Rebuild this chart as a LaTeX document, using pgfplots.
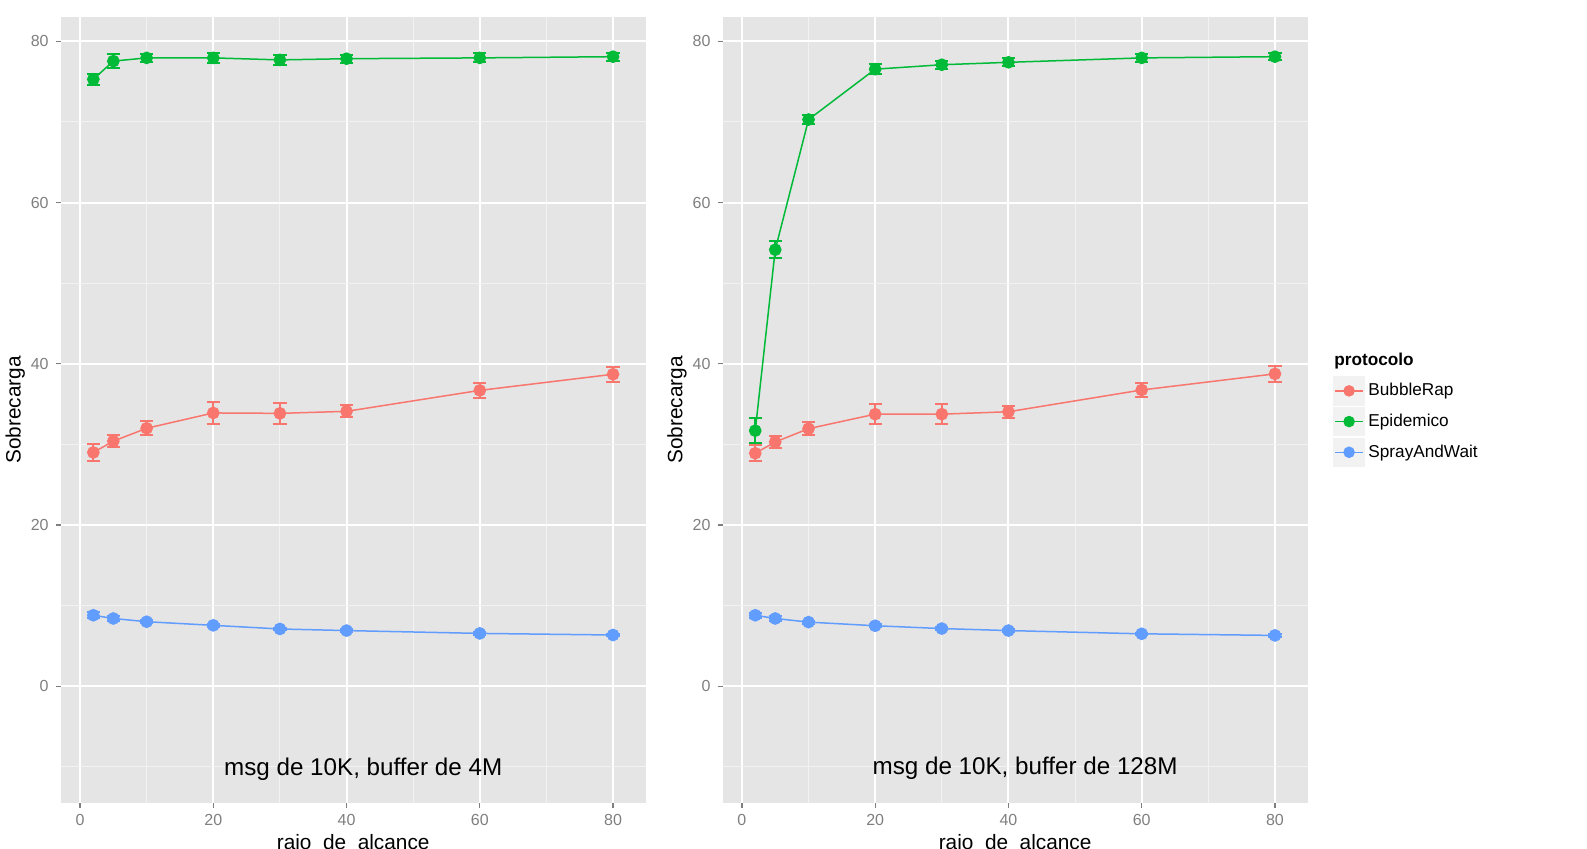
\documentclass[border=0pt]{standalone}
\usepackage{fontspec}
\setmainfont{Liberation Sans}
\usepackage{pgfplots}
\pgfplotsset{compat=1.18}

\definecolor{ggbg}{HTML}{E5E5E5}
\definecolor{ggminor}{HTML}{F2F2F2}
\definecolor{ggtext}{HTML}{7F7F7F}
\definecolor{cbub}{HTML}{F8766D}
\definecolor{cepi}{HTML}{00BA38}
\definecolor{cspr}{HTML}{619CFF}

\tikzset{note/.style={font=\fontsize{12.1}{14}\selectfont, anchor=base}}

\pgfplotsset{
  ggpanel/.style={
    scale only axis, width=292.5pt, height=392.7pt,
    xmin=-2.9, xmax=84.9, ymin=-14.44, ymax=83.0,
    axis background/.style={fill=ggbg},
    axis line style={draw=none},
    xtick={0,20,40,60,80}, ytick={0,20,40,60,80},
    minor xtick={10,30,50,70}, minor ytick={-10,10,30,50,70},
    grid=both,
    major grid style={white, line width=1pt},
    minor grid style={ggminor, line width=0.5pt},
    xtick pos=lower, ytick pos=left,
    tick align=outside, major tick length=2.5pt, minor tick length=0pt,
    tick style={ggtext, line width=0.6pt},
    ticklabel style={font=\fontsize{8}{9}\selectfont, text=ggtext},
    /pgf/number format/assume math mode=true,
    ylabel={Sobrecarga}, xlabel={raio\_de\_alcance},
    label style={font=\fontsize{10.4}{12}\selectfont},
    ylabel style={at={(axis description cs:-0.0778,0.5)}, anchor=center},
    xlabel style={at={(axis description cs:0.5,-0.0596)}, anchor=base},
  },
  ser/.style={color=#1, mark=*, line width=0.75pt, mark size=2.8pt,
    mark options={solid},
    error bars/y dir=both, error bars/y explicit,
    error bars/error bar style={line width=1pt},
    error bars/error mark options={rotate=90, mark size=3.3pt, line width=1pt}},
}

\begin{document}
\begin{tikzpicture}
\path[use as bounding box] (0,0) rectangle (793.5pt,424.5pt);
\clip (0,0) rectangle (793.5pt,424.5pt);

% left panel: buffer de 4M
\begin{axis}[ggpanel, at={(30.35pt,23.2pt)}, anchor=south west]
\addplot[ser=cbub] coordinates {
  (2,29.0) +- (0,1.0) (5,30.4) +- (0,0.75) (10,32.0) +- (0,0.85) (20,33.9) +- (0,1.35)
  (30,33.85) +- (0,1.3) (40,34.1) +- (0,0.75) (60,36.7) +- (0,0.95) (80,38.7) +- (0,0.9)
};
\addplot[ser=cepi] coordinates {
  (2,75.3) +- (0,0.7) (5,77.55) +- (0,0.85) (10,77.95) +- (0,0.5) (20,77.95) +- (0,0.6)
  (30,77.7) +- (0,0.6) (40,77.85) +- (0,0.5) (60,77.95) +- (0,0.55) (80,78.1) +- (0,0.5)
};
\addplot[ser=cspr] coordinates {
  (2,8.8) +- (0,0.35) (5,8.4) +- (0,0.3) (10,8.0) +- (0,0.2) (20,7.55) +- (0,0.2)
  (30,7.1) +- (0,0.15) (40,6.9) +- (0,0.15) (60,6.55) +- (0,0.15) (80,6.35) +- (0,0.15)
};
\node[note] at (axis cs:42.5,-11.1) {msg de 10K, buffer de 4M};
\end{axis}

% right panel: buffer de 128M
\begin{axis}[ggpanel, at={(361.3pt,23.2pt)}, anchor=south west,
  legend style={draw=none, fill=none, inner sep=0pt, at={(1.0433,0.5435)},
    anchor=north west, row sep=0.6pt, font=\fontsize{8.6}{10}\selectfont,
    nodes={inner sep=0.3pt}},
  legend cell align=left,
  legend image code/.code={
    \fill[ggminor] (-0.5pt,-7pt) rectangle (14.5pt,7pt);
    \draw[mark repeat=2, mark phase=2, mark size=2.5pt] plot coordinates {(0pt,0pt) (7pt,0pt) (14pt,0pt)};
  },
]
\addplot[ser=cbub] coordinates {
  (2,28.9) +- (0,1.0) (5,30.3) +- (0,0.75) (10,31.95) +- (0,0.8) (20,33.75) +- (0,1.2)
  (30,33.75) +- (0,1.2) (40,34.05) +- (0,0.75) (60,36.75) +- (0,0.9) (80,38.75) +- (0,1.0)
};
\addlegendentry{\hspace{1.5pt}BubbleRap}
\addplot[ser=cepi] coordinates {
  (2,31.7) +- (0,1.55) (5,54.15) +- (0,1.05) (10,70.3) +- (0,0.6) (20,76.55) +- (0,0.6)
  (30,77.1) +- (0,0.5) (40,77.4) +- (0,0.5) (60,77.95) +- (0,0.5) (80,78.1) +- (0,0.4)
};
\addlegendentry{\hspace{1.5pt}Epidemico}
\addplot[ser=cspr] coordinates {
  (2,8.8) +- (0,0.3) (5,8.4) +- (0,0.3) (10,7.95) +- (0,0.2) (20,7.5) +- (0,0.2)
  (30,7.15) +- (0,0.15) (40,6.9) +- (0,0.15) (60,6.5) +- (0,0.15) (80,6.3) +- (0,0.15)
};
\addlegendentry{\hspace{1.5pt}SprayAndWait}
\node[note] at (axis cs:42.5,-11.0) {msg de 10K, buffer de 128M};
\end{axis}

\node[anchor=west, inner sep=0pt, font=\fontsize{8.6}{10}\selectfont\bfseries] at (667pt,243.8pt) {protocolo};
\end{tikzpicture}
\end{document}
